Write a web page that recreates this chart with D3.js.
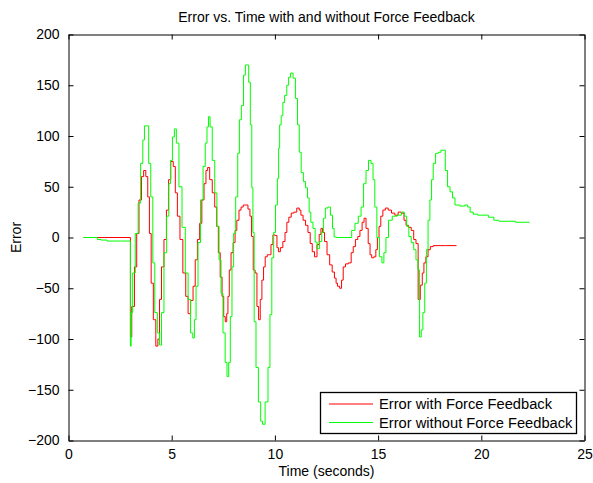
<!DOCTYPE html>
<html>
<head>
<meta charset="utf-8">
<script src="https://cdn.jsdelivr.net/npm/d3@7"></script>
<style>
  html, body { margin: 0; padding: 0; background: #fff; }
  svg text { font-family: "Liberation Sans", Arial, Helvetica, sans-serif; fill: #000; }
</style>
</head>
<body>
<svg id="chart" width="593" height="483"></svg>
<script>
// ---- data ----
const title = "Error vs. Time with and without Force Feedback";
const xLabel = "Time (seconds)";
const yLabel = "Error";
const seriesNames = ["Error with Force Feedback", "Error without Force Feedback"];
const xTicks = [0, 5, 10, 15, 20, 25];
const yTicks = [-200, -150, -100, -50, 0, 50, 100, 150, 200];

// time (s)
const withFFTime = [0.73,3.00,3.00,3.13,3.26,3.35,3.48,3.59,3.69,3.80,3.88,3.96,4.05,4.17,4.29,4.37,4.45,4.56,4.69,4.80,4.90,5.01,5.14,5.21,5.34,5.46,5.62,5.74,5.85,5.98,6.09,6.19,6.30,6.41,6.51,6.62,6.70,6.78,6.90,7.03,7.14,7.22,7.30,7.40,7.48,7.56,7.63,7.70,7.75,7.83,7.92,8.03,8.11,8.20,8.32,8.40,8.53,8.64,8.75,8.83,8.91,8.99,9.09,9.17,9.25,9.33,9.41,9.49,9.57,9.69,9.77,9.85,9.96,10.06,10.14,10.20,10.33,10.44,10.54,10.62,10.73,10.85,10.98,11.14,11.22,11.30,11.43,11.54,11.66,11.76,11.86,11.98,12.10,12.19,12.27,12.35,12.46,12.59,12.72,12.83,12.94,12.99,13.07,13.20,13.26,13.36,13.48,13.64,13.75,13.84,13.96,14.07,14.17,14.28,14.36,14.47,14.57,14.65,14.73,14.85,14.93,15.00,15.09,15.17,15.29,15.41,15.57,15.73,15.89,16.05,16.21,16.30,16.41,16.54,16.67,16.78,16.89,16.99,17.10,17.18,17.26,17.37,17.47,17.59,17.75,18.80];
const withFFError = [0,0,-98,-68,-29,4,37,60,66,60,40,4,-45,-81,-107,-100,-61,-29,-2,27,57,75,70,44,21,-2,-35,-58,-75,-62,-48,-22,-2,14,37,53,66,69,57,44,30,11,-15,-39,-58,-78,-83,-75,-58,-32,-15,-5,7,17,27,30,32,32,28,21,1,-32,-35,-68,-81,-61,-42,-29,-19,-17,-17,-7,2.5,2,-10,-14,-10,-4,5,15,20,24,25,29,27,22,17,12,5,-6,-14,-19,-7,3,9,5,-4,-17,-27,-34,-40,-45,-48,-50,-42,-29,-26,-25,-15,-9,-2,1,7,15,19,9,-6,-17,-20,-19,-12,0,11,21,27,29,27,24,22,25,24,17,12,10,7,-2,-6,-61,-47,-35,-25,-19,-12,-9,-8,-8];

const withoutFFTime = [0.73,1.35,1.45,1.70,2.03,3.00,3.00,3.07,3.15,3.32,3.43,3.56,3.64,3.72,3.85,3.92,4.05,4.12,4.24,4.37,4.45,4.56,4.69,4.82,4.90,4.98,5.09,5.17,5.28,5.42,5.58,5.74,5.85,5.98,6.06,6.14,6.22,6.33,6.46,6.58,6.67,6.75,6.82,6.90,7.03,7.14,7.24,7.35,7.43,7.54,7.64,7.72,7.80,7.88,7.96,8.04,8.16,8.24,8.32,8.43,8.53,8.61,8.69,8.77,8.85,8.91,8.96,9.03,9.14,9.26,9.36,9.44,9.61,9.72,9.80,9.90,9.98,10.08,10.16,10.20,10.26,10.35,10.42,10.52,10.63,10.70,10.82,10.94,11.05,11.14,11.22,11.33,11.43,11.54,11.62,11.70,11.78,11.91,11.99,12.10,12.23,12.31,12.39,12.50,12.63,12.75,12.83,12.91,13.07,13.64,13.80,13.96,14.12,14.23,14.36,14.47,14.60,14.71,14.80,14.88,15.00,15.13,15.24,15.32,15.44,15.57,15.80,16.05,16.21,16.33,16.44,16.54,16.67,16.78,16.89,16.97,17.05,17.13,17.21,17.31,17.37,17.47,17.55,17.63,17.71,17.86,17.99,18.10,18.20,18.31,18.42,18.55,18.66,18.79,19.12,19.28,19.40,19.52,19.70,19.95,20.20,20.49,20.73,20.97,22.34];
const withoutFFError = [0,0,-2,-2.5,-3.5,-3.5,-107,-74,-35,4,34,73,96,110,110,73,40,-25,-74,-94,-106,-74,-15,21,53,76,99,107,93,50,10,-35,-61,-94,-99,-81,-48,-5,37,70,93,109,119,109,76,44,11,-22,-55,-94,-123,-137,-123,-78,-29,4,40,83,116,130,160,170,170,153,111,49,5,-83,-128,-162,-181,-184,-162,-128,-76,-20,5,32,58,88,111,120,133,140,150,158,162,157,137,111,84,64,55,49,39,25,15,9,-4.5,-11,-4,5,19,29,30,22,9,0.5,0,0,7,14,21,30,53,66,76,73,57,30,0,-19,-25,-15,0,17,21,22,25,21,11,1,-5,-12,-22,-32,-98,-91,-74,-45,-12,17,37,57,73,83,84,86,86,66,50,45,39,32,31,32,30,25,23,22,22,20,17,16,15,15];

const seriesColors = ["#ff0000", "#00ff00"];

// ---- chart ----
const svg = d3.select("#chart");
const W = 593, H = 483;
const m = { left: 68.5, right: 584.5, top: 34.5, bottom: 440.5 };

const x = d3.scaleLinear().domain([0, 25]).range([m.left, m.right]);
const y = d3.scaleLinear().domain([-200, 200]).range([m.bottom, m.top]);

svg.append("rect").attr("width", W).attr("height", H).attr("fill", "#fff");

svg.append("clipPath").attr("id", "clip").append("rect")
  .attr("x", m.left).attr("y", m.top)
  .attr("width", m.right - m.left).attr("height", m.bottom - m.top);

const series = [
  { name: seriesNames[0], t: withFFTime, v: withFFError, color: seriesColors[0] },
  { name: seriesNames[1], t: withoutFFTime, v: withoutFFError, color: seriesColors[1] }
];

const line = d3.line()
  .x(d => x(d[0]))
  .y(d => y(d[1]))
  .curve(d3.curveStep);

const plot = svg.append("g").attr("clip-path", "url(#clip)");
series.forEach(s => {
  const pts = s.t.map((t, i) => [t, s.v[i]]);
  plot.append("path")
    .datum(pts)
    .attr("fill", "none")
    .attr("stroke", s.color)
    .attr("stroke-width", 1)
    .attr("d", line);
});

const tickLen = 5;
const fs = 14;
const axisBottom = d3.axisBottom(x).tickValues(xTicks).tickSizeInner(-tickLen).tickSizeOuter(0).tickPadding(9);
const axisTop = d3.axisTop(x).tickValues(xTicks).tickSizeInner(-tickLen).tickSizeOuter(0).tickFormat("");
const axisLeft = d3.axisLeft(y).tickValues(yTicks).tickSizeInner(-tickLen).tickSizeOuter(0).tickPadding(9);
const axisRight = d3.axisRight(y).tickValues(yTicks).tickSizeInner(-tickLen).tickSizeOuter(0).tickFormat("");

function styleAxis(g) {
  g.selectAll("path").attr("stroke", "#000").attr("stroke-width", 1);
  g.selectAll("line").attr("stroke", "#000").attr("stroke-width", 1);
  g.selectAll("text").attr("font-size", fs).attr("fill", "#000")
    .attr("font-family", "'Liberation Sans', Arial, Helvetica, sans-serif");
}

svg.append("g").attr("transform", `translate(0,${m.bottom})`).call(axisBottom).call(styleAxis);
svg.append("g").attr("transform", `translate(0,${m.top})`).call(axisTop).call(styleAxis);
svg.append("g").attr("transform", `translate(${m.left},0)`).call(axisLeft).call(styleAxis);
svg.append("g").attr("transform", `translate(${m.right},0)`).call(axisRight).call(styleAxis);

svg.append("text")
  .attr("x", (m.left + m.right) / 2).attr("y", 22)
  .attr("text-anchor", "middle").attr("font-size", fs)
  .text(title);
svg.append("text")
  .attr("x", (m.left + m.right) / 2).attr("y", 476)
  .attr("text-anchor", "middle").attr("font-size", fs)
  .text(xLabel);
svg.append("text")
  .attr("transform", `translate(21,${(m.top + m.bottom) / 2}) rotate(-90)`)
  .attr("text-anchor", "middle").attr("font-size", fs)
  .text(yLabel);

// legend
const lg = svg.append("g");
lg.append("rect")
  .attr("x", 320.5).attr("y", 392.5).attr("width", 256).attr("height", 41)
  .attr("fill", "#fff").attr("stroke", "#000").attr("stroke-width", 1.3);
series.forEach((s, i) => {
  const yy = 404 + i * 18.5;
  lg.append("line")
    .attr("x1", 329).attr("x2", 373).attr("y1", yy).attr("y2", yy)
    .attr("stroke", s.color).attr("stroke-width", 1);
  lg.append("text")
    .attr("x", 379).attr("y", yy + 5)
    .attr("font-size", 14.7)
    .text(s.name);
});
</script>
</body>
</html>
